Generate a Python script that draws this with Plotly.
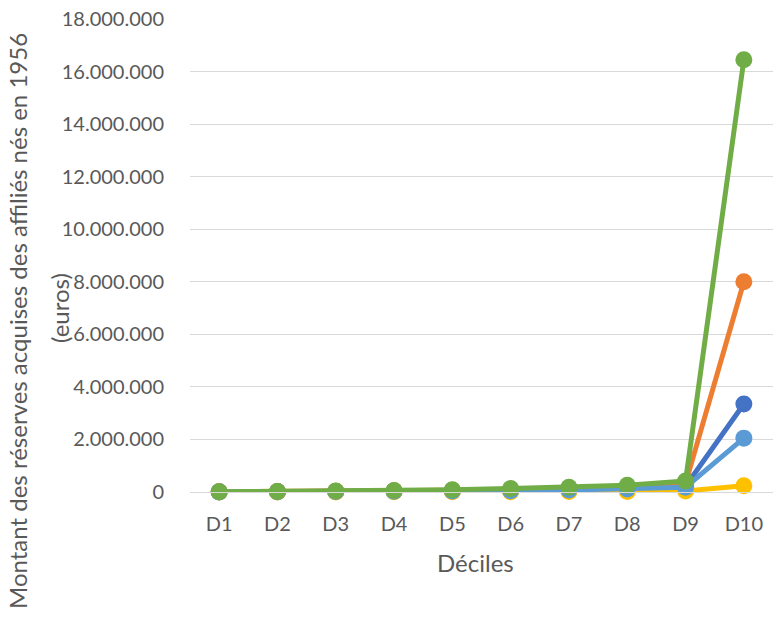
import plotly.graph_objects as go

# Deciles on the category axis
deciles = ["D1", "D2", "D3", "D4", "D5", "D6", "D7", "D8", "D9", "D10"]

# Acquired reserves per decile (euros), one list per series
serie_bleu = [5000, 10000, 20000, 30000, 40000, 60000, 90000, 130000, 220000, 3350000]
serie_orange = [8000, 15000, 30000, 50000, 70000, 100000, 140000, 210000, 330000, 8000000]
serie_jaune = [1000, 2000, 4000, 6000, 9000, 12000, 16000, 22000, 40000, 240000]
serie_bleu_clair = [4000, 8000, 15000, 25000, 35000, 50000, 75000, 110000, 180000, 2050000]
serie_vert = [10000, 20000, 40000, 60000, 90000, 130000, 180000, 260000, 420000, 16450000]

y_ticks = [0, 2000000, 4000000, 6000000, 8000000, 10000000, 12000000, 14000000, 16000000, 18000000]

series = [
    ("Série 1", serie_bleu, "#4472C4"),
    ("Série 2", serie_orange, "#ED7D31"),
    ("Série 3", serie_jaune, "#FFC000"),
    ("Série 4", serie_bleu_clair, "#5B9BD5"),
    ("Série 5", serie_vert, "#70AD47"),
]

fig = go.Figure()
for name, values, color in series:
    fig.add_trace(go.Scatter(
        x=deciles, y=values, name=name, mode="lines+markers",
        line=dict(color=color, width=5),
        marker=dict(color=color, size=17),
        showlegend=False,
        cliponaxis=False,
    ))

font_family = "Lato, 'Open Sans', sans-serif"
text_color = "#595959"
title_font = dict(size=24, color=text_color, family=font_family)

fig.update_layout(
    width=773, height=620,
    margin=dict(l=190, r=0, t=19, b=128),
    paper_bgcolor="white", plot_bgcolor="white",
    separators=",.",
    font=dict(family=font_family, color=text_color, size=20),
    xaxis=dict(
        type="category", range=[-0.5, 9.5],
        showgrid=False, showline=True, linecolor="#D9D9D9", linewidth=1,
        ticks="outside", ticklen=14, tickcolor="rgba(0,0,0,0)",
        tickfont=dict(size=20, color=text_color),
        zeroline=False,
    ),
    yaxis=dict(
        range=[0, 18000000], tickvals=y_ticks, tickformat=",.0f",
        showgrid=True, gridcolor="#D9D9D9", gridwidth=1.3,
        ticks="outside", ticklen=21, tickcolor="rgba(0,0,0,0)",
        tickfont=dict(size=20, color=text_color),
        zeroline=False, showline=False,
    ),
    annotations=[
        # y-axis title, two lines
        dict(
            text="Montant des réserves acquises des affiliés nés en 1956",
            xref="paper", yref="paper", x=(17 - 190) / 583, y=(492 - 321) / 473,
            xanchor="center", yanchor="middle", textangle=-90, showarrow=False,
            font=title_font,
        ),
        dict(
            text="(euros)",
            xref="paper", yref="paper", x=(59 - 190) / 583, y=(492 - 308) / 473,
            xanchor="center", yanchor="middle", textangle=-90, showarrow=False,
            font=title_font,
        ),
        # x-axis title
        dict(
            text="Déciles",
            xref="paper", yref="paper", x=(475 - 190) / 583, y=(492 - 562) / 473,
            xanchor="center", yanchor="middle", showarrow=False,
            font=title_font,
        ),
    ],
)

fig.write_html("out.html")
